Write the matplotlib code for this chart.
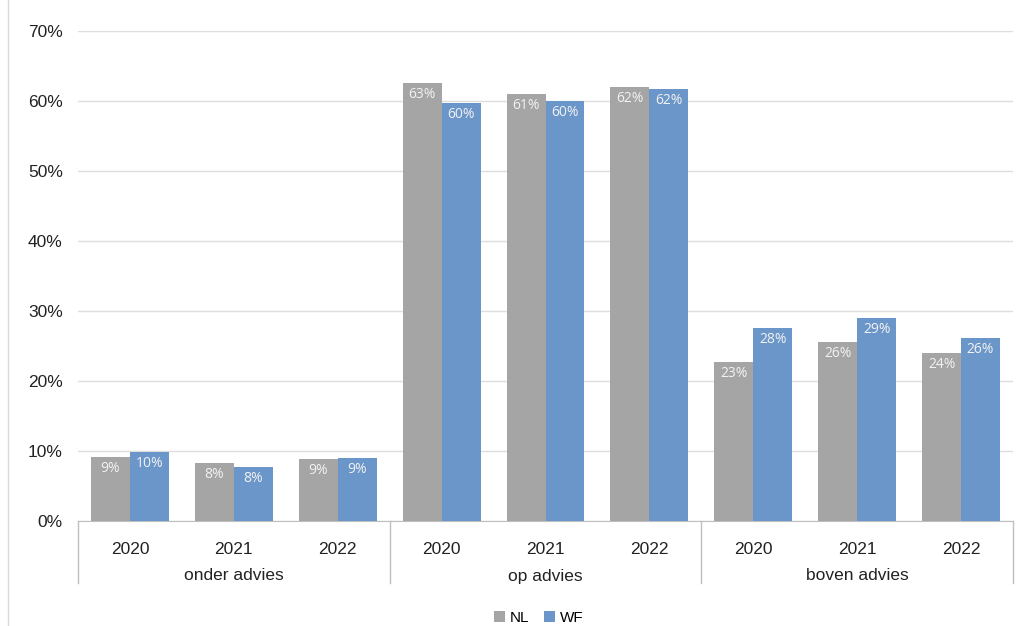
import matplotlib
matplotlib.use('Agg')
import matplotlib.pyplot as plt
import matplotlib.transforms as mtransforms
import numpy as np

groups = ['onder advies', 'op advies', 'boven advies']
years = ['2020', '2021', '2022']
nl = [9.1, 8.3, 8.9, 62.6, 61.0, 62.0, 22.7, 25.6, 24.0]
wf = [9.9, 7.7, 9.0, 59.7, 60.0, 61.7, 27.6, 29.0, 26.1]
series_names = ['NL', 'WF']
colors = ['#a5a5a5', '#6b96c9']

plt.rcParams['font.family'] = ['Liberation Sans', 'DejaVu Sans']

fig = plt.figure(figsize=(10.26, 6.26), dpi=100)
ax = fig.add_axes([78 / 1026, 1 - 521 / 626, (1013 - 78) / 1026, (521 - 31) / 626])

xs = np.arange(len(nl))
w = 0.375
bars_nl = ax.bar(xs - w / 2, nl, w, color=colors[0], label=series_names[0], zorder=3)
bars_wf = ax.bar(xs + w / 2, wf, w, color=colors[1], label=series_names[1], zorder=3)

for bars in (bars_nl, bars_wf):
    for b in bars:
        h = b.get_height()
        ax.annotate(f'{h:.0f}%', (b.get_x() + b.get_width() / 2, h),
                    xytext=(0, -3), textcoords='offset points',
                    ha='center', va='top', fontsize=10, color='#f2f2f2',
                    family=['Open Sans', 'DejaVu Sans'], zorder=4)

ax.set_xlim(-0.5, len(nl) - 0.5)
ax.set_ylim(0, 70)
ax.set_yticks(range(0, 71, 10))
ax.set_yticklabels([f'{v}%' for v in range(0, 71, 10)], fontsize=12.5, color='#222222')
ax.yaxis.grid(True, color='#dedede', linewidth=1, zorder=0)
ax.tick_params(axis='y', length=0, pad=11)
ax.set_xticks(xs)
ax.set_xticklabels(years * len(groups), fontsize=12.5, color='#222222')
ax.tick_params(axis='x', length=0, pad=15)
for s in ['top', 'right', 'left']:
    ax.spines[s].set_visible(False)
ax.spines['bottom'].set_color('#bfbfbf')

# group labels and separators below the axis
trans = mtransforms.blended_transform_factory(ax.transData, ax.transAxes)
sep_bottom = -62 / 490
for i in range(len(groups) + 1):
    ax.plot([i * 3 - 0.5, i * 3 - 0.5], [0, sep_bottom], transform=trans,
            color='#bfbfbf', linewidth=1, clip_on=False)
for i, g in enumerate(groups):
    ax.text(i * 3 + 1, -55 / 490, g, transform=trans, ha='center', va='center',
            fontsize=12.5, color='#222222')

# light frame line at the left
fig.add_artist(plt.Line2D([8 / 1026, 8 / 1026], [0, 1], color='#d9d9d9', linewidth=1))

fig.legend(handles=[bars_nl, bars_wf], loc='center', bbox_to_anchor=(0.525, 1 - 618 / 626),
           ncol=2, frameon=False, fontsize=11, handlelength=0.7, handleheight=0.7,
           handletextpad=0.3, columnspacing=1.0)

fig.savefig('out.png', dpi=100, facecolor='white')
plt.close()
